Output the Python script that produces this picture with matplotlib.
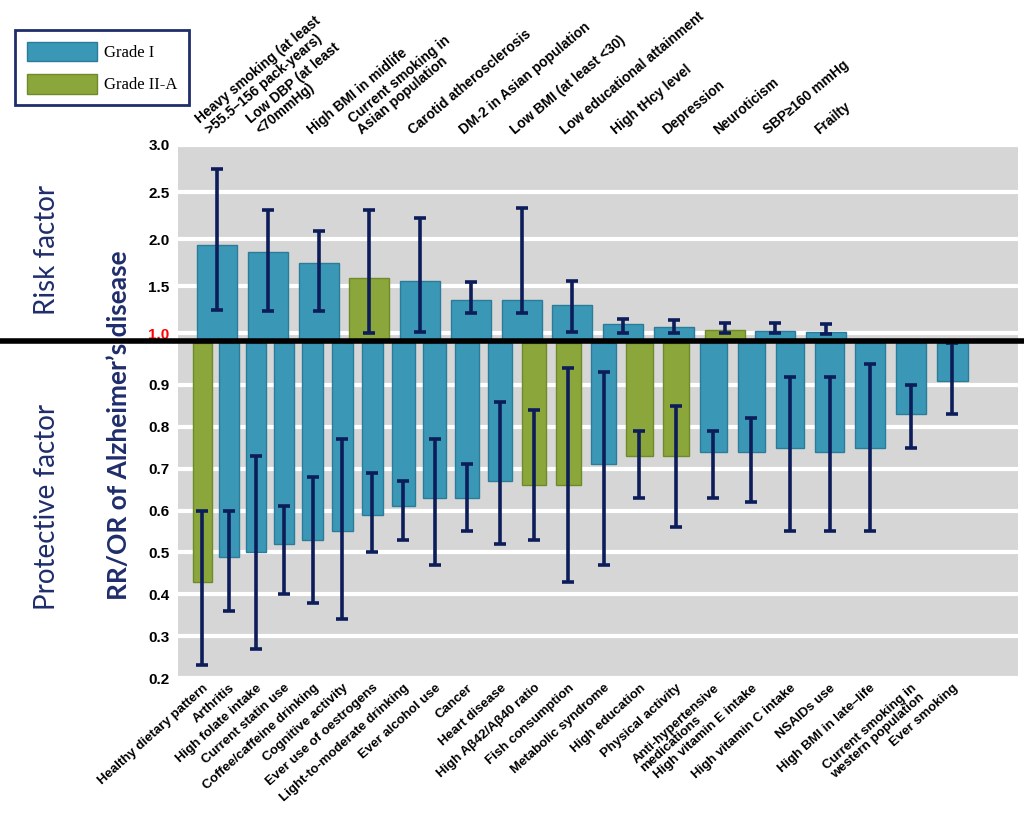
import numpy as np
import matplotlib.pyplot as plt
import matplotlib.transforms as mtransforms
from matplotlib.patches import Patch
from matplotlib.lines import Line2D

plt.rcParams['font.family'] = ['Liberation Sans', 'DejaVu Sans']

# Fatores de risco (painel superior)
risk_labels = ['Heavy smoking (at least\n>55.5–156 pack-years)', 'Low DBP (at least\n<70mmHg)',
               'High BMI in midlife', 'Current smoking in\nAsian population', 'Carotid atherosclerosis',
               'DM-2 in Asian population', 'Low BMI (at least <30)', 'Low educational attainment',
               'High tHcy level', 'Depression', 'Neuroticism', 'SBP≥160 mmHg', 'Frailty']
risk_rr = [1.94, 1.86, 1.75, 1.59, 1.56, 1.36, 1.36, 1.30, 1.10, 1.07, 1.04, 1.03, 1.02]
risk_low = [1.25, 1.24, 1.24, 1.01, 1.02, 1.22, 1.22, 1.02, 1.00, 1.00, 1.01, 1.00, 0.99]
risk_high = [2.74, 2.31, 2.09, 2.31, 2.22, 1.55, 2.33, 1.56, 1.15, 1.14, 1.11, 1.11, 1.10]
risk_grade = ['I', 'I', 'I', 'II-A', 'I', 'I', 'I', 'I', 'I', 'I', 'II-A', 'I', 'I']

# Fatores de protecao (painel inferior)
prot_labels = ['Healthy dietary pattern', 'Arthritis', 'High folate intake', 'Current statin use',
               'Coffee/caffeine drinking', 'Cognitive activity', 'Ever use of oestrogens',
               'Light-to-moderate drinking', 'Ever alcohol use', 'Cancer', 'Heart disease',
               'High Aβ42/Aβ40 ratio', 'Fish consumption', 'Metabolic syndrome', 'High education',
               'Physical activity', 'Anti-hypertensive\nmedications', 'High vitamin E intake',
               'High vitamin C intake', 'NSAIDs use', 'High BMI in late–life',
               'Current smoking in\nwestern population', 'Ever smoking']
prot_rr = [0.43, 0.49, 0.50, 0.52, 0.53, 0.55, 0.59, 0.61, 0.63, 0.63, 0.67, 0.66, 0.66,
           0.71, 0.73, 0.73, 0.74, 0.74, 0.75, 0.74, 0.75, 0.83, 0.91]
prot_low = [0.23, 0.36, 0.27, 0.40, 0.38, 0.34, 0.50, 0.53, 0.47, 0.55, 0.52, 0.53, 0.43,
            0.47, 0.63, 0.56, 0.63, 0.62, 0.55, 0.55, 0.55, 0.75, 0.83]
prot_high = [0.60, 0.60, 0.73, 0.61, 0.68, 0.77, 0.69, 0.67, 0.77, 0.71, 0.86, 0.84, 0.94,
             0.93, 0.79, 0.85, 0.79, 0.82, 0.92, 0.92, 0.95, 0.90, 1.00]
prot_grade = ['II-A', 'I', 'I', 'I', 'I', 'I', 'I', 'I', 'I', 'I', 'I', 'II-A', 'II-A',
              'I', 'II-A', 'II-A', 'I', 'I', 'I', 'I', 'I', 'I', 'I']

cores = {'I': '#3a97b6', 'II-A': '#8ba63b'}
bordas = {'I': '#2b7c98', 'II-A': '#6f8a2a'}
cor_erro = '#0d1d5a'
cor_texto = '#1f2d6b'
fundo = '#d6d6d6'
FLOOR = 0.92  # "chao" do painel superior, abaixo do 1.0

W, H = 1024, 819
fig = plt.figure(figsize=(W / 100, H / 100), dpi=100)


def rect_px(left, top, right, bottom):
    return [left / W, 1 - bottom / H, (right - left) / W, (bottom - top) / H]


ax_top = fig.add_axes(rect_px(178, 145, 1018, 341))
ax_bot = fig.add_axes(rect_px(178, 343, 1018, 678))

# espacamento em perspectiva do painel inferior
k = 0.0137


def persp(x):
    return x + k * x * x


def persp_inv(y):
    return (np.sqrt(np.maximum(1 + 4 * k * y, 0)) - 1) / (2 * k)


ax_bot.set_xscale('function', functions=(persp, persp_inv))

for ax in (ax_top, ax_bot):
    ax.set_facecolor(fundo)
    for s in ax.spines.values():
        s.set_visible(False)
    ax.yaxis.grid(True, color='white', linewidth=3)
    ax.set_axisbelow(True)
    ax.set_xticks([])
    ax.tick_params(axis='y', length=0, pad=6, labelsize=11)

# painel superior
x_r = np.arange(len(risk_rr))
rr = np.array(risk_rr)
ax_top.bar(x_r, rr - FLOOR, bottom=FLOOR, width=0.79,
           color=[cores[g] for g in risk_grade], edgecolor=[bordas[g] for g in risk_grade], linewidth=1)
ax_top.errorbar(x_r, rr, yerr=[rr - np.array(risk_low), np.array(risk_high) - rr], fmt='none',
                ecolor=cor_erro, elinewidth=2.6, capsize=4.5, capthick=2.6)
ax_top.set_xlim(-0.77, 15.78)
ax_top.set_ylim(FLOOR, 3.0)
ax_top.set_yticks([1.0, 1.5, 2.0, 2.5, 3.0])
ax_top.set_yticklabels(['1.0', '1.5', '2.0', '2.5', '3.0'], fontweight='bold')
ax_top.get_yticklabels()[0].set_color('red')

trans_top = mtransforms.blended_transform_factory(ax_top.transData, ax_top.transAxes)
for i, lab in enumerate(risk_labels):
    ax_top.text(i - 0.1, 1.04, lab, transform=trans_top, rotation=40, rotation_mode='anchor',
                ha='left', va='bottom', multialignment='left', linespacing=1.1,
                fontsize=10, fontweight='bold')

# painel inferior
x_p = np.arange(len(prot_rr))
pr = np.array(prot_rr)
ax_bot.bar(x_p, pr - 1.0, bottom=1.0, width=0.72,
           color=[cores[g] for g in prot_grade], edgecolor=[bordas[g] for g in prot_grade], linewidth=1)
ax_bot.errorbar(x_p, pr, yerr=[pr - np.array(prot_low), np.array(prot_high) - pr], fmt='none',
                ecolor=cor_erro, elinewidth=2.6, capsize=4.5, capthick=2.6)
ax_bot.set_xlim(-0.94, 23.54)
ax_bot.set_ylim(0.2, 1.0)
ax_bot.set_yticks([0.2, 0.3, 0.4, 0.5, 0.6, 0.7, 0.8, 0.9])
ax_bot.set_yticklabels(['0.2', '0.3', '0.4', '0.5', '0.6', '0.7', '0.8', '0.9'], fontweight='bold')

trans_bot = mtransforms.blended_transform_factory(ax_bot.transData, ax_bot.transAxes)
for i, lab in enumerate(prot_labels):
    ax_bot.text(i, -0.012, lab, transform=trans_bot, rotation=42, rotation_mode='anchor',
                ha='right', va='top', multialignment='left', linespacing=1.0,
                fontsize=9.5, fontweight='bold')

# linha do 1.0
fig.add_artist(Line2D([0, 1], [1 - 341 / H] * 2, transform=fig.transFigure, color='black', lw=4, zorder=10))

fig.text(47 / W, 1 - 250 / H, 'Risk factor', rotation=90, ha='center', va='center',
         fontsize=20, color=cor_texto, family='Lato')
fig.text(47 / W, 1 - 507 / H, 'Protective factor', rotation=90, ha='center', va='center',
         fontsize=20, color=cor_texto, family='Lato')
fig.text(119 / W, 1 - 425 / H, 'RR/OR of Alzheimer’s disease', rotation=90, ha='center', va='center',
         fontsize=19, fontweight='bold', color=cor_texto, family='Lato')

handles = [Patch(facecolor=cores['I'], edgecolor=bordas['I'], label='Grade I'),
           Patch(facecolor=cores['II-A'], edgecolor=bordas['II-A'], label='Grade II-A')]
leg = fig.legend(handles=handles, loc='upper left', bbox_to_anchor=(15 / W, 1 - 30 / H),
                 prop={'family': 'Liberation Serif', 'size': 12}, handlelength=4.2, handleheight=1.45,
                 labelspacing=0.75, handletextpad=0.45, borderpad=0.7, borderaxespad=0,
                 fancybox=False, edgecolor='#1f2d6b', framealpha=1)
leg.get_frame().set_linewidth(2)

plt.savefig('out.png', dpi=100)
